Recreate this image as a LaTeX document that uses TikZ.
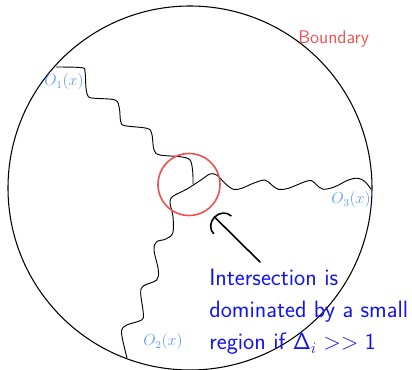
\documentclass[tikz,border=0pt]{standalone}
\usepackage{tikz}
\usetikzlibrary{arrows.meta}
\definecolor{opblue}{RGB}{95,155,245}
\definecolor{bndred}{RGB}{240,80,80}
\definecolor{noteblue}{RGB}{20,20,240}

\begin{document}
\begin{tikzpicture}[x=0.75pt,y=-0.75pt,
  wavy/.style={line width=0.7pt},
  ring/.style={draw,circle,inner sep=0pt},
  olab/.style={text=opblue,inner sep=0pt,font=\fontsize{11.5}{13}\selectfont}]
\useasboundingbox (0,0) rectangle (412,370);
\node[ring,line width=0.8pt,minimum size=273pt] (bnd) at (190,188) {};
\draw[wavy] plot[smooth,tension=0.55] coordinates {(56,67) (81.7,67.7) (85,71.7) (86,88) (88.3,96.7) (95,98.3) (115,100) (119.3,108) (120.7,121.7) (125,125.7) (146.7,128.3) (151.7,133.3) (154,150) (160,155) (180,156.7) (190,160) (192.7,171.7) (193,184)};
\draw[wavy] plot[smooth,tension=0.55] coordinates {(127,358) (122.7,340) (121.7,330) (126.7,325) (141.7,320) (143.3,313.3) (140.7,293.3) (143.3,286) (156.7,280) (158.3,270) (154,250) (156.7,241.7) (165,239.3) (172.7,233.3) (173,216.7) (170,203) (172,197) (181.7,191.7) (188.3,188.3) (193.3,185) (201.7,179.5) (210,174) (216.7,175) (225,183.3) (233.3,189.3) (241.7,188.3) (253.3,183.3) (265,180) (271.7,185) (278.3,189.3) (288.3,188.3) (305,181.7) (311.7,180.7) (316.7,185) (323.3,189.3) (335,186.7) (348.3,180) (358.3,178.3) (365,181.7) (371,189)};
\node[ring,bndred,line width=1.2pt,minimum size=46.5pt] (hot) at (189,184.5) {};
\foreach \i/\x/\y in {1/64/82,2/163/342,3/351/200} {
  \node[olab] (o\i) at (\x,\y) {$O_{\i}(x)$};
}
\node[text=bndred,font=\fontsize{13.7}{16}\selectfont\sffamily,anchor=west,inner sep=0pt] (bndlab) at (298,39) {Boundary};
\node[text=noteblue,font=\fontsize{17.8}{24}\selectfont\sffamily,align=left,anchor=north west,inner sep=0pt] (note) at (209,269)
  {Intersection is\\dominated by a small\\region if $\mathsf{\Delta}_i >> \mathsf{1}$};
\coordinate (tail) at (260,262);
\coordinate (tip) at (214,216.5);
\draw[line width=1.2pt,line cap=round,-{Arc Barb[length=9pt,width=20pt]}] (tail) -- (tip);
\end{tikzpicture}
\end{document}
